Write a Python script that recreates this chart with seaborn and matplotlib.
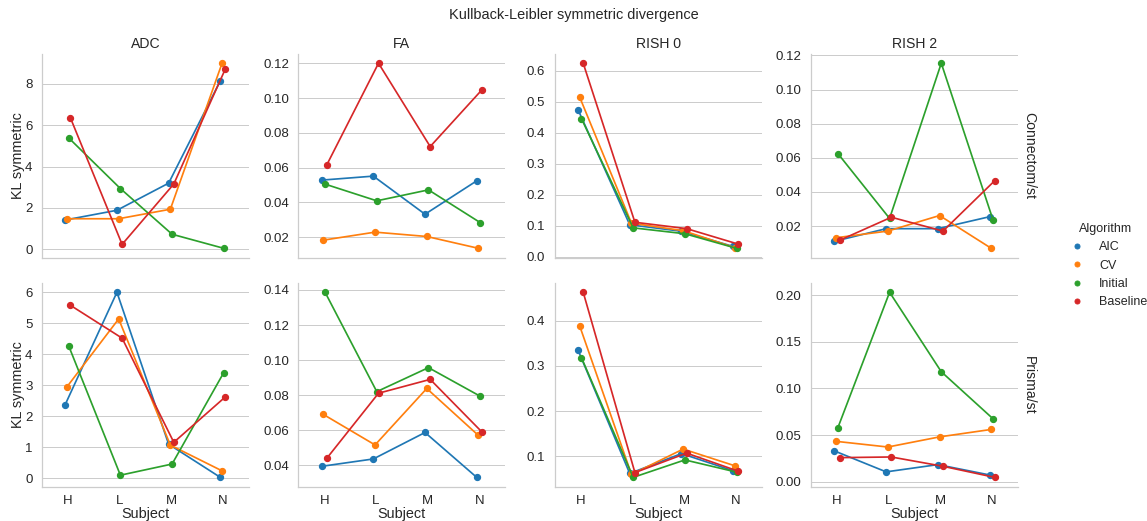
## KL symmetric divergence per subject, algorithm, metric and scanner.
import pandas as pd
import matplotlib.pyplot as plt
from matplotlib.lines import Line2D
import seaborn as sns

subjects = ['H', 'L', 'M', 'N']
algorithms = ['AIC', 'CV', 'Initial', 'Baseline']
metrics = ['ADC', 'FA', 'RISH 0', 'RISH 2']
scanners = ['Connectom/st', 'Prisma/st']

# Values read per subject (H, L, M, N) for each algorithm.
connectom_adc = {'AIC': [1.42, 1.89, 3.20, 8.15], 'CV': [1.48, 1.48, 1.94, 9.0],
                 'Initial': [5.39, 2.94, 0.73, 0.05], 'Baseline': [6.36, 0.24, 3.16, 8.74]}
connectom_fa = {'AIC': [0.0528, 0.0551, 0.0332, 0.0524], 'CV': [0.0183, 0.0229, 0.0204, 0.0136],
                'Initial': [0.0505, 0.0409, 0.0472, 0.0284], 'Baseline': [0.0616, 0.120, 0.0721, 0.1047]}
connectom_rish0 = {'AIC': [0.475, 0.104, 0.083, 0.034], 'CV': [0.515, 0.109, 0.085, 0.030],
                   'Initial': [0.446, 0.094, 0.075, 0.028], 'Baseline': [0.625, 0.112, 0.0915, 0.0415]}
connectom_rish2 = {'AIC': [0.0111, 0.0185, 0.0185, 0.0255], 'CV': [0.0132, 0.0171, 0.0262, 0.0070],
                   'Initial': [0.0625, 0.0245, 0.1154, 0.0237], 'Baseline': [0.0117, 0.0252, 0.0171, 0.0466]}
prisma_adc = {'AIC': [2.38, 6.0, 1.10, 0.03], 'CV': [2.95, 5.14, 1.07, 0.24],
              'Initial': [4.27, 0.10, 0.46, 3.41], 'Baseline': [5.58, 4.52, 1.16, 2.63]}
prisma_fa = {'AIC': [0.0394, 0.0436, 0.0587, 0.0331], 'CV': [0.069, 0.0516, 0.0838, 0.057],
             'Initial': [0.1387, 0.082, 0.0957, 0.0794], 'Baseline': [0.044, 0.0811, 0.089, 0.059]}
prisma_rish0 = {'AIC': [0.335, 0.062, 0.106, 0.068], 'CV': [0.388, 0.060, 0.116, 0.079],
                'Initial': [0.318, 0.0534, 0.092, 0.065], 'Baseline': [0.463, 0.064, 0.107, 0.067]}
prisma_rish2 = {'AIC': [0.0329, 0.0104, 0.0182, 0.0071], 'CV': [0.0432, 0.0371, 0.048, 0.056],
                'Initial': [0.0579, 0.2034, 0.118, 0.0675], 'Baseline': [0.0257, 0.0264, 0.0164, 0.0045]}

tables = {('Connectom/st', 'ADC'): connectom_adc, ('Connectom/st', 'FA'): connectom_fa,
          ('Connectom/st', 'RISH 0'): connectom_rish0, ('Connectom/st', 'RISH 2'): connectom_rish2,
          ('Prisma/st', 'ADC'): prisma_adc, ('Prisma/st', 'FA'): prisma_fa,
          ('Prisma/st', 'RISH 0'): prisma_rish0, ('Prisma/st', 'RISH 2'): prisma_rish2}

# Long format table.
rows = []
for (scanner, metric), table in tables.items():
    for algo in algorithms:
        for subj, val in zip(subjects, table[algo]):
            rows.append({'Scanner': scanner, 'Metric': metric, 'Algorithm': algo,
                         'Subject': subj, 'KL symmetric': val})
df = pd.DataFrame(rows)

sns.set_theme(style='whitegrid', font_scale=1.2)
plt.rcParams['font.family'] = ['Liberation Sans', 'DejaVu Sans']
plt.rcParams['axes.labelpad'] = 0
plt.rcParams['xtick.major.pad'] = 2
colors = sns.color_palette('tab10', 4)

g = sns.catplot(data=df, x='Subject', y='KL symmetric', hue='Algorithm', col='Metric', row='Scanner',
                kind='point', sharey=False, margin_titles=True, dodge=True, errorbar=None,
                order=subjects, hue_order=algorithms, col_order=metrics, row_order=scanners,
                palette=colors, legend=False, height=3, aspect=1,
                markersize=6, linewidth=1.7)
g.set_titles(col_template='{col_name}', row_template='{row_name}', size=14)

fig = g.figure
fig.set_dpi(72)
fig.set_size_inches(1147 / 72, 521 / 72)
fig.subplots_adjust(left=0.0366, right=0.8875, top=0.8964, bottom=0.066, wspace=0.24, hspace=0.125)
fig.suptitle('Kullback-Leibler symmetric divergence', y=0.985, fontsize=14.5)

# Legend with dots only.
handles = [Line2D([], [], marker='o', linestyle='', color=c, markersize=5) for c in colors]
fig.legend(handles, algorithms, title='Algorithm', loc='center left',
           bbox_to_anchor=(0.918, 0.49), frameon=False, fontsize=12.5, title_fontsize=12.5)

plt.savefig('out.png', dpi=72)
